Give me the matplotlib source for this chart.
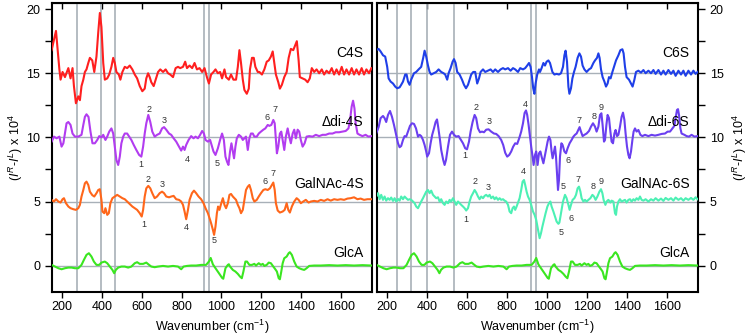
import matplotlib
matplotlib.use("Agg")
import matplotlib.pyplot as plt
from matplotlib.ticker import MultipleLocator

plt.rcParams['font.family'] = ['Liberation Sans', 'DejaVu Sans']
plt.rcParams['mathtext.fontset'] = 'custom'
plt.rcParams['mathtext.rm'] = 'Liberation Sans'
plt.rcParams['mathtext.it'] = 'Liberation Sans:italic'

# ---------------- data (wavenumber cm-1, signal x 1e4, offsets included) -------------
c4s = [(148,16.8),(160,17.6),(170,18.3),(177,17.1),(187,15.3),(193,14.5),(203,15.1),(215,14.7),(232,15.4),(243,14.6),(253,15.4),(260,14.0),(270,12.66),(282,13.2),(290,12.9),(298,14.0),(307,14.5),(315,15.1),(323,15.3),(332,15.8),(340,16.2),(352,16.0),(362,15.1),(373,16.3),(382,18.2),(390,19.7),(398,18.6),(407,15.8),(415,14.5),(427,14.6),(437,14.9),(448,15.5),(457,16.2),(465,15.8),(473,15.1),(485,14.9),(493,14.5),(503,15.1),(515,15.5),(527,15.4),(540,15.6),(553,15.3),(565,14.9),(577,14.6),(590,14.0),(603,13.6),(615,13.8),(623,14.6),(632,15.0),(640,14.7),(648,14.3),(660,14.0),(670,14.5),(682,15.1),(693,15.3),(707,15.1),(720,15.3),(732,15.0),(743,14.9),(757,14.7),(770,15.4),(782,15.5),(793,15.4),(807,15.5),(818,15.9),(827,15.4),(840,15.6),(853,15.4),(865,15.8),(877,15.3),(890,15.4),(903,15.1),(915,15.4),(927,14.7),(937,14.2),(948,14.9),(960,15.1),(970,15.3),(982,15.0),(993,15.1),(1003,14.6),(1015,15.3),(1023,14.7),(1037,14.5),(1048,14.9),(1060,14.5),(1073,14.5),(1082,15.5),(1090,16.8),(1098,15.8),(1107,14.5),(1115,13.7),(1127,13.4),(1137,13.8),(1143,15.3),(1153,16.2),(1162,16.2),(1170,15.5),(1182,15.1),(1190,15.1),(1203,14.9),(1215,15.3),(1227,15.9),(1237,16.0),(1248,16.3),(1257,16.7),(1265,15.8),(1273,14.9),(1285,14.3),(1293,13.8),(1303,14.1),(1315,14.7),(1327,15.1),(1337,16.2),(1348,16.9),(1360,16.8),(1370,17.2),(1378,17.5),(1387,16.0),(1393,14.7),(1407,14.6),(1420,14.5),(1432,14.3),(1443,14.6),(1453,15.4),(1465,15.1),(1477,15.3),(1490,15.0),(1503,15.3),(1515,14.9),(1527,15.2),(1540,15.0),(1553,15.4),(1565,14.9),(1577,15.3),(1590,14.9),(1603,15.5),(1615,14.9),(1627,15.3),(1640,14.9),(1653,15.4),(1665,14.9),(1677,15.3),(1690,14.9),(1703,15.4),(1715,14.9),(1727,15.3),(1740,15.0),(1752,15.4)]

di4s = [(148,9.67),(160,10.06),(173,9.93),(187,10.06),(198,9.28),(207,9.54),(215,10.3),(223,11.1),(232,11.2),(243,10.97),(253,10.3),(265,10.06),(282,10.06),(298,10.2),(307,10.97),(315,11.6),(323,11.8),(333,11.6),(343,10.45),(353,9.54),(365,9.54),(377,9.8),(387,10.1),(398,10.0),(407,10.2),(418,9.8),(427,10.06),(437,10.45),(448,10.7),(457,10.3),(465,9.28),(473,8.24),(482,7.85),(490,8.5),(498,9.54),(507,10.06),(515,10.3),(527,10.3),(537,10.06),(548,9.8),(560,9.41),(573,9.02),(587,8.63),(598,8.5),(607,9.28),(615,10.3),(623,11.1),(633,11.75),(643,11.2),(653,10.45),(665,10.06),(677,10.2),(690,10.3),(702,10.7),(712,10.8),(723,10.6),(737,10.3),(748,10.2),(760,9.93),(773,9.67),(787,9.28),(798,8.97),(807,9.28),(815,9.02),(823,9.41),(835,9.8),(848,10.1),(860,9.93),(870,10.06),(882,9.93),(893,10.2),(903,10.5),(912,10.3),(920,9.8),(932,9.67),(943,9.8),(948,9.54),(960,8.9),(970,8.63),(982,9.15),(993,9.8),(1003,10.3),(1012,9.8),(1020,8.5),(1028,8.1),(1035,7.85),(1043,8.9),(1050,9.54),(1057,8.9),(1063,8.37),(1070,9.28),(1077,9.93),(1087,10.2),(1098,10.06),(1107,9.8),(1115,9.93),(1123,10.06),(1132,9.02),(1140,9.93),(1148,10.3),(1157,10.3),(1165,10.06),(1177,10.06),(1187,10.3),(1198,10.45),(1210,10.6),(1220,10.7),(1232,10.97),(1240,10.9),(1250,10.97),(1260,11.36),(1267,11.1),(1273,9.8),(1278,8.76),(1285,9.28),(1293,10.3),(1300,10.45),(1307,9.8),(1315,9.02),(1323,10.06),(1332,10.7),(1340,10.06),(1348,9.54),(1357,10.3),(1365,10.6),(1373,9.93),(1382,10.6),(1390,10.45),(1398,9.8),(1407,9.28),(1417,9.54),(1427,10.06),(1440,10.1),(1457,10.06),(1473,10.2),(1490,10.1),(1507,10.2),(1523,10.2),(1540,10.3),(1557,10.3),(1573,10.4),(1590,10.4),(1607,10.45),(1623,10.5),(1637,10.7),(1645,11.36),(1653,12.4),(1660,12.86),(1667,12.27),(1673,11.1),(1682,10.3),(1693,10.2),(1707,10.1),(1723,10.2),(1737,10.06),(1752,10.1)]

galnac4s = [(148,5.13),(160,5.0),(170,5.18),(182,5.0),(193,4.92),(203,5.18),(210,5.26),(220,4.87),(232,4.61),(243,4.48),(257,4.4),(270,4.35),(282,4.48),(290,4.74),(298,5.39),(307,5.9),(315,6.42),(323,6.55),(332,6.29),(340,5.77),(352,5.5),(362,5.39),(373,5.65),(382,5.9),(390,5.96),(398,5.13),(403,4.22),(412,4.09),(418,4.48),(427,3.96),(435,4.09),(443,4.87),(453,5.26),(465,5.39),(477,5.52),(490,5.39),(503,5.26),(515,5.18),(527,5.0),(540,4.81),(553,4.61),(565,4.48),(577,4.35),(590,4.09),(600,3.83),(607,4.35),(615,5.39),(623,6.03),(633,6.22),(643,6.03),(653,5.65),(665,5.26),(677,5.39),(690,5.65),(702,5.77),(712,5.65),(723,5.39),(737,5.33),(748,5.39),(760,5.44),(773,5.18),(787,5.13),(798,5.0),(807,4.74),(815,4.22),(823,3.62),(832,4.35),(840,5.13),(852,5.65),(862,5.85),(873,5.65),(885,5.39),(898,5.18),(910,4.87),(920,4.48),(932,4.09),(943,3.57),(950,3.2),(957,2.79),(963,2.4),(970,3.05),(977,4.09),(983,4.61),(990,4.35),(998,4.81),(1007,5.26),(1015,4.74),(1023,4.48),(1032,4.87),(1040,5.52),(1048,5.59),(1057,5.39),(1065,5.26),(1073,5.13),(1082,4.74),(1090,4.48),(1098,4.09),(1107,4.35),(1115,5.13),(1123,5.9),(1132,6.16),(1140,6.29),(1148,5.9),(1157,5.26),(1165,5.0),(1177,5.13),(1187,5.39),(1198,5.65),(1210,5.9),(1220,5.96),(1232,5.9),(1243,6.03),(1253,6.29),(1260,6.48),(1267,5.9),(1273,4.87),(1282,4.3),(1293,4.14),(1307,4.22),(1317,4.35),(1327,4.87),(1335,4.35),(1343,4.14),(1353,4.61),(1365,5.0),(1377,5.26),(1387,5.13),(1398,4.87),(1410,5.0),(1423,5.13),(1437,4.92),(1448,5.0),(1465,5.05),(1482,5.0),(1498,5.13),(1515,5.05),(1532,5.18),(1548,5.07),(1565,5.18),(1582,5.13),(1598,5.18),(1615,5.13),(1632,5.23),(1648,5.26),(1665,5.33),(1682,5.18),(1698,5.23),(1715,5.13),(1732,5.18),(1752,5.18)]

glca = [(148,0.06),(165,-0.07),(182,-0.2),(198,-0.28),(215,-0.2),(232,-0.15),(248,-0.15),(265,-0.2),(282,-0.2),(298,0.06),(310,0.45),(323,0.84),(335,0.97),(348,0.71),(360,0.32),(373,0.06),(387,0.06),(398,0.24),(415,0.32),(427,0.19),(440,-0.07),(453,-0.33),(462,-0.59),(470,-0.33),(482,-0.15),(498,-0.07),(515,-0.07),(532,-0.15),(548,-0.07),(565,0.19),(577,0.27),(590,0.14),(607,0.14),(623,0.24),(637,0.06),(648,-0.07),(665,-0.12),(682,-0.07),(707,-0.02),(732,-0.07),(757,-0.02),(782,-0.07),(798,-0.28),(810,-0.07),(827,-0.02),(848,0.01),(873,0.01),(898,0.06),(923,0.06),(937,0.32),(946,0.6),(957,0.1),(970,-0.2),(982,-0.47),(993,-0.72),(1003,-0.95),(1009,-1.02),(1020,-0.2),(1032,0.06),(1037,0.11),(1043,-0.07),(1057,-0.33),(1070,-0.46),(1082,-0.64),(1093,-0.85),(1102,-0.98),(1110,-0.46),(1120,0.32),(1128,0.32),(1140,0.06),(1153,0.06),(1165,0.14),(1173,0.01),(1187,0.19),(1198,0.06),(1207,0.14),(1215,-0.02),(1227,0.06),(1237,0.24),(1248,0.19),(1260,-0.07),(1270,-0.28),(1278,-0.46),(1287,-0.98),(1293,-1.06),(1300,-0.46),(1307,0.19),(1315,0.58),(1327,0.71),(1337,0.97),(1343,1.05),(1353,0.84),(1365,0.32),(1377,-0.07),(1390,-0.2),(1403,-0.28),(1415,-0.33),(1427,-0.2),(1440,-0.02),(1465,0.01),(1498,0.01),(1540,0.04),(1582,0.01),(1623,0.04),(1665,0.01),(1707,0.04),(1752,0.01)]

c6s = [(146,16.8),(158,16.9),(168,16.7),(180,16.4),(191,16.3),(201,15.5),(208,14.6),(218,14.35),(230,14.2),(241,13.96),(251,13.83),(263,13.9),(271,14.1),(280,14.35),(291,14.9),(298,14.9),(305,14.35),(313,14.1),(321,14.5),(335,15.0),(346,15.1),(358,15.3),(371,15.5),(381,16.2),(388,16.76),(396,16.3),(405,15.6),(413,15.1),(421,14.9),(433,15.0),(446,15.1),(458,15.3),(471,15.1),(483,15.0),(491,14.9),(501,14.5),(508,15.0),(518,15.4),(528,15.9),(535,16.1),(543,15.8),(551,15.1),(563,14.9),(575,14.5),(585,14.1),(595,13.83),(605,14.1),(613,14.5),(621,14.9),(631,15.1),(641,15.1),(651,14.2),(660,14.6),(668,15.1),(680,15.3),(691,15.1),(705,15.2),(718,15.3),(730,15.1),(741,15.3),(755,15.1),(768,15.3),(780,15.4),(791,15.3),(805,15.4),(818,15.2),(830,15.4),(841,15.3),(855,15.1),(866,15.4),(880,15.3),(891,15.4),(901,15.6),(910,15.8),(918,15.5),(925,14.7),(931,13.83),(937,13.4),(943,14.2),(951,14.9),(960,15.3),(965,15.1),(973,15.4),(982,15.8),(990,15.6),(998,15.9),(1007,16.0),(1015,15.8),(1027,15.1),(1037,14.9),(1048,14.95),(1060,14.9),(1070,15.0),(1080,15.5),(1087,16.4),(1093,16.76),(1100,15.9),(1107,13.96),(1112,13.4),(1120,13.83),(1127,14.6),(1135,15.1),(1143,15.5),(1153,16.2),(1162,16.55),(1170,16.3),(1178,15.6),(1187,15.3),(1198,15.1),(1210,15.3),(1220,15.4),(1232,15.8),(1240,16.0),(1250,16.2),(1257,16.55),(1263,16.2),(1270,15.3),(1278,14.7),(1287,14.35),(1295,13.96),(1303,14.2),(1310,14.7),(1318,14.6),(1327,15.1),(1337,15.6),(1345,16.0),(1357,16.4),(1367,16.8),(1377,16.87),(1383,16.55),(1390,15.5),(1398,14.7),(1410,14.5),(1420,14.2),(1428,13.96),(1437,14.5),(1445,15.1),(1457,15.2),(1470,15.05),(1482,15.25),(1493,15.0),(1507,15.2),(1520,15.0),(1532,15.25),(1543,14.95),(1557,15.25),(1570,14.9),(1582,15.2),(1593,14.9),(1607,15.25),(1620,14.95),(1632,15.2),(1643,14.8),(1657,15.2),(1670,14.9),(1682,15.2),(1693,14.8),(1707,15.2),(1720,14.9),(1732,15.2),(1743,14.95),(1753,15.1)]

di6s = [(146,10.3),(158,10.8),(168,11.5),(180,11.67),(188,11.5),(196,11.2),(205,11.75),(215,12.06),(225,11.6),(235,10.97),(246,10.2),(255,9.54),(263,9.23),(271,9.33),(280,9.8),(288,10.1),(296,10.06),(305,10.45),(315,10.9),(325,11.1),(335,11.05),(345,10.7),(355,10.06),(363,10.2),(371,10.1),(380,9.8),(388,9.41),(396,8.9),(401,8.5),(410,8.76),(418,9.54),(426,10.2),(435,10.7),(443,11.2),(450,11.4),(456,10.8),(465,9.8),(471,9.02),(481,8.24),(488,7.85),(495,8.24),(505,9.28),(515,10.2),(525,10.45),(535,10.2),(546,10.06),(558,10.1),(568,9.85),(580,9.54),(591,9.15),(600,9.07),(610,9.67),(618,10.45),(628,11.2),(638,11.75),(646,11.5),(655,10.7),(665,10.4),(675,10.45),(685,10.4),(696,10.6),(708,10.63),(721,10.45),(735,10.3),(746,10.27),(758,10.1),(771,9.8),(781,9.41),(791,8.8),(801,8.5),(811,8.63),(821,8.9),(831,9.28),(841,9.54),(851,9.49),(861,9.93),(871,10.45),(880,11.1),(888,11.9),(895,12.1),(901,11.75),(908,10.97),(915,10.06),(921,9.28),(928,8.5),(933,7.85),(940,8.63),(946,8.9),(953,7.85),(960,8.76),(967,8.9),(973,8.5),(982,7.98),(987,8.37),(995,9.02),(1003,9.67),(1010,10.06),(1017,9.8),(1023,8.9),(1028,8.37),(1033,8.76),(1040,9.28),(1045,8.5),(1050,7.2),(1055,5.9),(1060,6.7),(1065,8.5),(1072,9.54),(1078,9.41),(1087,8.9),(1095,8.76),(1103,9.15),(1113,9.54),(1123,9.8),(1132,10.06),(1140,10.2),(1148,10.3),(1157,10.6),(1163,10.8),(1170,10.45),(1178,10.1),(1187,10.2),(1198,10.3),(1210,10.5),(1220,10.84),(1230,11.1),(1240,10.84),(1248,10.45),(1257,10.84),(1265,11.75),(1272,11.88),(1278,10.97),(1285,9.67),(1290,9.8),(1297,10.97),(1303,11.75),(1310,11.5),(1317,10.45),(1323,9.67),(1330,9.54),(1337,10.3),(1343,10.58),(1350,10.1),(1357,10.2),(1365,10.84),(1373,11.6),(1380,11.93),(1387,11.36),(1393,10.3),(1400,9.28),(1407,8.63),(1413,8.37),(1420,8.9),(1427,9.8),(1433,10.45),(1440,10.7),(1448,10.45),(1457,10.58),(1467,10.2),(1477,10.1),(1490,10.2),(1507,10.1),(1523,10.2),(1540,10.14),(1557,10.2),(1573,10.27),(1590,10.3),(1603,10.45),(1615,10.45),(1627,10.7),(1637,10.9),(1643,11.5),(1650,12.14),(1655,12.2),(1660,11.75),(1667,10.7),(1673,10.3),(1687,10.2),(1698,10.1),(1710,10.06),(1723,10.2),(1737,10.06),(1753,10.1)]

galnac6s = [(146,5.39),(155,5.65),(163,5.18),(171,5.52),(180,5.13),(188,5.39),(196,5.07),(205,5.26),(213,5.13),(221,5.31),(230,5.05),(238,5.26),(246,5.0),(255,5.2),(263,5.07),(271,5.39),(280,5.18),(288,5.39),(296,5.26),(305,5.13),(313,5.18),(321,5.13),(330,5.0),(338,4.87),(346,4.61),(355,4.48),(363,4.74),(371,5.0),(380,5.26),(388,5.52),(396,5.77),(405,5.9),(413,5.65),(421,5.85),(430,5.52),(438,5.39),(446,5.26),(455,5.33),(463,5.0),(471,5.18),(480,4.87),(488,4.74),(496,5.0),(505,4.87),(513,5.13),(521,5.0),(530,5.26),(538,5.0),(546,4.74),(555,5.0),(563,4.87),(571,4.74),(580,4.61),(588,4.48),(596,4.3),(605,4.48),(613,5.0),(621,5.39),(630,5.65),(638,5.9),(646,5.7),(655,5.39),(663,5.18),(671,5.39),(680,5.26),(688,5.44),(696,5.52),(705,5.39),(713,5.52),(721,5.26),(730,5.39),(738,5.18),(746,5.33),(755,5.13),(763,5.26),(771,5.13),(780,5.18),(788,5.07),(796,5.0),(805,4.74),(813,4.22),(821,4.09),(828,4.48),(835,4.61),(841,4.35),(848,4.61),(855,4.92),(863,5.26),(871,5.9),(878,6.55),(885,6.68),(891,6.29),(898,5.77),(905,5.39),(913,5.13),(921,4.74),(930,4.22),(938,3.96),(946,3.57),(955,2.79),(963,2.14),(970,2.53),(977,3.05),(985,3.57),(993,4.09),(1002,4.61),(1010,4.87),(1017,5.0),(1023,4.61),(1032,4.22),(1040,3.83),(1048,3.44),(1057,3.26),(1062,3.36),(1070,4.09),(1080,5.0),(1090,5.52),(1098,5.26),(1107,4.74),(1113,4.35),(1120,4.74),(1128,5.13),(1137,5.26),(1145,5.52),(1153,6.03),(1160,6.16),(1167,5.77),(1173,5.26),(1182,5.0),(1190,5.13),(1198,5.0),(1207,5.13),(1217,5.26),(1227,5.52),(1235,5.39),(1243,5.13),(1252,5.39),(1262,5.77),(1270,5.96),(1277,5.65),(1283,5.13),(1292,4.74),(1298,5.0),(1307,5.13),(1317,4.92),(1323,5.07),(1332,5.0),(1340,4.09),(1345,3.96),(1350,4.61),(1357,5.0),(1365,5.18),(1373,5.0),(1382,5.07),(1390,5.13),(1398,4.92),(1407,5.13),(1415,5.18),(1423,5.0),(1432,5.18),(1440,5.07),(1448,5.26),(1457,5.13),(1465,5.39),(1473,5.13),(1482,5.07),(1493,5.18),(1507,5.0),(1520,5.18),(1532,5.07),(1543,5.26),(1557,5.07),(1570,5.23),(1582,5.05),(1593,5.28),(1607,5.13),(1620,5.26),(1632,5.07),(1643,5.31),(1657,5.13),(1670,5.26),(1682,5.07),(1693,5.26),(1707,5.13),(1720,5.28),(1732,5.13),(1743,5.33),(1753,5.18)]

left_names = ["C4S", "\u0394di-4S", "GalNAc-4S", "GlcA"]
right_names = ["C6S", "\u0394di-6S", "GalNAc-6S", "GlcA"]
name_y = [16.6, 11.2, 6.4, 1.0]

left_vlines = [277, 394, 466, 914, 938]
right_vlines = [252, 319, 400, 536, 918, 943]
baselines = [0, 5, 10, 15]

# peak labels: (label, x, y)
di4s_marks = [("1", 598, 7.9), ("2", 635, 12.2), ("3", 715, 11.35), ("4", 830, 8.3),
              ("5", 977, 8.0), ("6", 1227, 11.55), ("7", 1267, 12.15)]
galnac4s_marks = [("1", 610, 3.2), ("2", 633, 6.7), ("3", 702, 6.3), ("4", 825, 3.0),
                  ("5", 962, 1.95), ("6", 1220, 6.55), ("7", 1260, 7.15)]
di6s_marks = [("1", 591, 8.6), ("2", 643, 12.3), ("3", 713, 11.2), ("4", 893, 12.6),
              ("5", 1082, 6.15), ("6", 1107, 8.2), ("7", 1162, 11.3), ("8", 1237, 11.6),
              ("9", 1272, 12.35)]
galnac6s_marks = [("1", 596, 3.6), ("2", 638, 6.55), ("3", 708, 6.1), ("4", 880, 7.35),
                  ("5", 1070, 2.6), ("6", 1120, 3.65), ("7", 1157, 6.75), ("8", 1230, 6.2),
                  ("9", 1273, 6.6)]

left_colors = ["#ff1f1f", "#b23cf0", "#ff661a", "#3ae620"]
right_colors = ["#1f3fe8", "#6a3ff0", "#4cf0b4", "#3ae620"]

xlim = (150, 1755)
ylim = (-2.03, 20.5)
xticks = [200, 400, 600, 800, 1000, 1200, 1400, 1600]
yticks = [0, 5, 10, 15, 20]

# ---------------- figure ----------------
fig = plt.figure(figsize=(7.49, 3.36), dpi=100)
axL = fig.add_axes([52/749, 1-291.7/336, 320/749, 289/336])
axR = fig.add_axes([377/749, 1-291.7/336, 321/749, 289/336])

ylab = r'($\mathit{I}^{R}$-$\mathit{I}^{L}$) x 10$^{4}$'
grid_col = "#a8b0b8"


def style(ax, vlines, right):
    ax.set_xlim(*xlim)
    ax.set_ylim(*ylim)
    for v in vlines:
        ax.axvline(v, color=grid_col, lw=1.2, zorder=1)
    for b in baselines:
        ax.axhline(b, color=grid_col, lw=1.0, zorder=1)
    for s in ax.spines.values():
        s.set_linewidth(1.5)
    ax.set_xticks(xticks)
    ax.tick_params(axis='x', direction='out', length=4, width=1, labelsize=9, pad=3)
    sec = ax.secondary_xaxis('top')
    sec.set_xticks(xticks)
    sec.tick_params(axis='x', direction='in', length=4, width=1, labeltop=False)
    ax.set_yticks(yticks)
    ax.yaxis.set_minor_locator(MultipleLocator(2.5))
    ax.tick_params(axis='y', which='both', direction='out', length=5, width=1, labelsize=9)
    ax.set_xlabel("Wavenumber (cm$^{-1}$)", fontsize=9, labelpad=3)
    if right:
        ax.yaxis.tick_right()
        ax.yaxis.set_label_position('right')
        ax.set_ylabel(ylab, fontsize=9, rotation=90, labelpad=5)
    else:
        ax.set_ylabel(ylab, fontsize=9, labelpad=1)


def plot_series(ax, data, color):
    xs = [p[0] for p in data]
    ys = [p[1] for p in data]
    ax.plot(xs, ys, color=color, lw=1.5, zorder=3)


def marks(ax, items):
    for lab, x, y in items:
        ax.text(x, y, lab, fontsize=6.5, color="#333333", ha='center', va='center', zorder=4)


style(axL, left_vlines, False)
style(axR, right_vlines, True)

for data, col in zip([c4s, di4s, galnac4s, glca], left_colors):
    plot_series(axL, data, col)
for data, col in zip([c6s, di6s, galnac6s, glca], right_colors):
    plot_series(axR, data, col)

for name, y in zip(left_names, name_y):
    axL.text(1712, y, name, fontsize=10, ha='right', va='center', zorder=5)
for name, y in zip(right_names, name_y):
    axR.text(1712, y, name, fontsize=10, ha='right', va='center', zorder=5)

marks(axL, di4s_marks)
marks(axL, galnac4s_marks)
marks(axR, di6s_marks)
marks(axR, galnac6s_marks)

fig.savefig("out.png", dpi=100)
